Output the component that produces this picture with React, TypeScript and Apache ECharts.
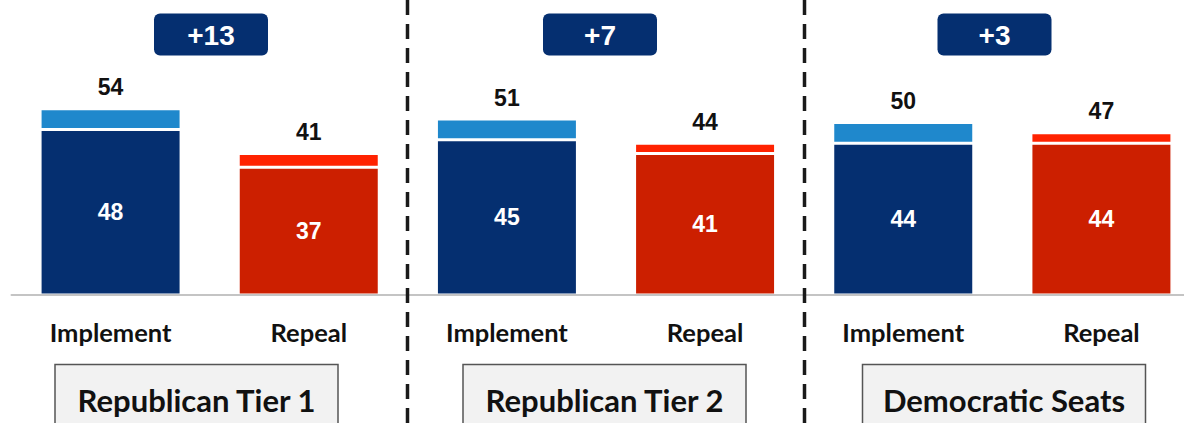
import React, { useEffect, useRef } from "react";
import * as echarts from "echarts";

const categories = ["Implement", "Repeal", "Implement", "Repeal", "Implement", "Repeal"];
const totals = [54, 41, 51, 44, 50, 47];
const strong = [48, 37, 45, 41, 44, 44];
const groupNames = ["Republican Tier 1", "Republican Tier 2", "Democratic Seats"];
const margins = ["+13", "+7", "+3"];

const NAVY = "#052f70";
const LIGHT_BLUE = "#1f88cc";
const RED = "#cc1f00";
const BRIGHT_RED = "#ff2200";

const badgeCenters = [211, 600, 994.5];
const boxCenters = [196.5, 604.5, 1004];
const dividerX = [407.5, 804.5];

export default function App() {
  const ref = useRef<HTMLDivElement>(null);

  useEffect(() => {
    if (!ref.current) return;
    const chart = echarts.init(ref.current, null, { renderer: "svg" });

    const strongData = strong.map((v, i) => ({
      value: v,
      itemStyle: { color: i % 2 === 0 ? NAVY : RED },
    }));
    const leanData = totals.map((t, i) => ({
      value: t - strong[i],
      itemStyle: { color: i % 2 === 0 ? LIGHT_BLUE : BRIGHT_RED },
    }));

    const graphics: any[] = [];
    dividerX.forEach((x) => {
      graphics.push({
        type: "line",
        shape: { x1: x, y1: 0, x2: x, y2: 423 },
        style: { stroke: "#1a1a1a", lineWidth: 3.5, lineDash: [15, 9] },
        z: 10,
      });
    });
    margins.forEach((m, i) => {
      graphics.push({
        type: "rect",
        shape: { x: badgeCenters[i] - 57, y: 13.5, width: 114, height: 42, r: 6 },
        style: { fill: NAVY },
        z: 10,
      });
      graphics.push({
        type: "text",
        x: badgeCenters[i],
        y: 35,
        style: {
          text: m,
          fill: "#ffffff",
          font: "bold 28px 'Liberation Sans', Arial, sans-serif",
          align: "center",
          verticalAlign: "middle",
        },
        z: 11,
      });
    });
    groupNames.forEach((g, i) => {
      graphics.push({
        type: "rect",
        shape: { x: boxCenters[i] - 141.5, y: 364.5, width: 283, height: 80 },
        style: { fill: "#f2f2f2", stroke: "#555555", lineWidth: 1.5 },
        z: 10,
      });
      graphics.push({
        type: "text",
        x: boxCenters[i],
        y: 400,
        style: {
          text: g,
          fill: "#111111",
          font: "bold 31px Lato, 'Open Sans', sans-serif",
          align: "center",
          verticalAlign: "middle",
        },
        z: 11,
      });
    });

    chart.setOption({
      animation: false,
      grid: {
        left: 11.5,
        top: 19,
        width: 1189,
        height: 276,
        outerBoundsMode: "none",
        containLabel: false,
      },
      xAxis: {
        type: "category",
        data: categories,
        z: 5,
        axisLine: { show: true, lineStyle: { color: "#c4c4c4", width: 2 } },
        axisTick: { show: false },
        axisLabel: {
          margin: 24,
          color: "#111111",
          fontFamily: "Lato, 'Open Sans', sans-serif",
          fontWeight: "bold",
          fontSize: 25.5,
        },
      },
      yAxis: {
        type: "value",
        min: 0,
        max: 80,
        show: false,
        splitLine: { show: false },
      },
      series: [
        {
          type: "bar",
          stack: "total",
          barWidth: 141,
          data: strongData,
          itemStyle: { borderColor: "#ffffff", borderWidth: 1.5 },
          label: {
            show: true,
            position: "inside",
            color: "#ffffff",
            fontFamily: "'Liberation Sans', Arial, sans-serif",
            fontWeight: "bold",
            fontSize: 23,
          },
        },
        {
          type: "bar",
          stack: "total",
          barWidth: 141,
          data: leanData,
          itemStyle: { borderColor: "#ffffff", borderWidth: 1.5 },
          label: {
            show: true,
            position: "top",
            distance: 10,
            color: "#111111",
            fontFamily: "'Liberation Sans', Arial, sans-serif",
            fontWeight: "bold",
            fontSize: 23,
            formatter: (p: any) => String(totals[p.dataIndex]),
          },
        },
      ],
      graphic: graphics,
    });

    return () => chart.dispose();
  }, []);

  return (
    <div
      ref={ref}
      style={{ position: "fixed", left: 0, top: 0, width: 1184, height: 423, background: "#ffffff" }}
    />
  );
}
